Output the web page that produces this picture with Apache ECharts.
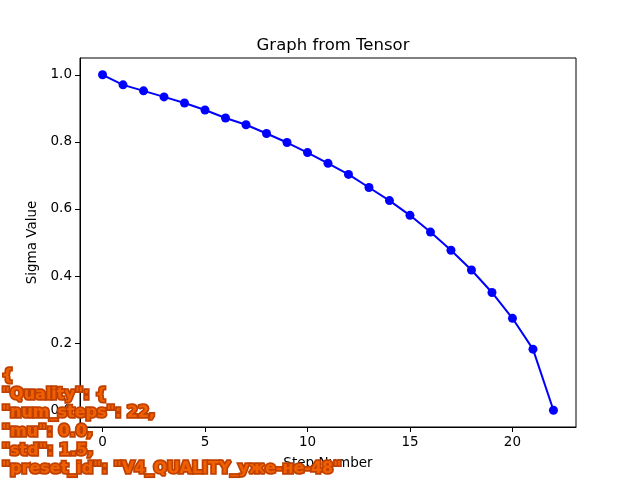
<!DOCTYPE html>
<html>
<head>
<meta charset="utf-8">
<script src="https://cdn.jsdelivr.net/npm/echarts@6/dist/echarts.min.js"></script>
<style>html,body{margin:0;padding:0;background:#fff}#c{width:640px;height:480px}</style>
</head>
<body>
<div id="c"></div>
<script>
var steps = [0,1,2,3,4,5,6,7,8,9,10,11,12,13,14,15,16,17,18,19,20,21,22];
var sigmas = [1.0,0.970,0.952,0.934,0.916,0.895,0.871,0.851,0.825,0.798,0.768,0.736,0.703,0.664,0.625,0.581,0.531,0.477,0.418,0.351,0.274,0.182,0.0];
var xTicks = [0,5,10,15,20];
var yTicks = [0,0.2,0.4,0.6,0.8,1.0];
var overlayLines = ['{','"Quality": {','"num_steps": 22,','"mu": 0.0,','"std": 1.5,','"preset_id": "V4_QUALITY_уже-не-48"'];

var chart = echarts.init(document.getElementById('c'), null, {renderer:'canvas'});
var font = 'DejaVu Sans';
chart.setOption({
  animation:false,
  backgroundColor:'#fff',
  title:{text:'Graph from Tensor',left:328,top:32,textAlign:'center',
    textStyle:{fontFamily:font,fontSize:16.5,fontWeight:'normal',color:'#000'}},
  grid:{left:80,right:64,top:58,bottom:53,show:true,borderColor:'#000',borderWidth:1,backgroundColor:'#fff'},
  xAxis:{type:'value',min:-1.1,max:23.1,
    name:'Step Number',nameLocation:'middle',nameGap:29,
    nameTextStyle:{fontFamily:font,fontSize:13.5,color:'#000'},
    axisLine:{show:true,onZero:false,lineStyle:{color:'#000',width:1}},
    axisTick:{show:true,length:5,customValues:xTicks,lineStyle:{color:'#000'}},
    axisLabel:{customValues:xTicks,fontFamily:font,fontSize:13.5,color:'#000',margin:8},
    splitLine:{show:false}},
  yAxis:{type:'value',min:-0.05,max:1.05,
    name:'Sigma Value',nameLocation:'middle',nameGap:34,nameRotate:90,
    nameTextStyle:{fontFamily:font,fontSize:13.5,color:'#000'},
    axisLine:{show:true,onZero:false,lineStyle:{color:'#000',width:1}},
    axisTick:{show:true,length:5,customValues:yTicks,lineStyle:{color:'#000'}},
    axisLabel:{customValues:yTicks,fontFamily:font,fontSize:13.5,color:'#000',margin:8,
      formatter:function(v){return v.toFixed(1);}},
    splitLine:{show:false}},
  series:[{type:'line',data:steps.map(function(s,i){return [s,sigmas[i]];}),
    symbol:'circle',symbolSize:9,showSymbol:true,
    lineStyle:{color:'#0000ff',width:2},itemStyle:{color:'#0000ff'}}],
  graphic:[{type:'text',left:0,top:366,z:100,
    style:{text:overlayLines.join('\n'),fontFamily:font,fontSize:16,fontWeight:'bold',
      lineHeight:18.7,fill:'#f06000',stroke:'#c04000',lineWidth:3.5}}]
});
</script>
</body>
</html>
